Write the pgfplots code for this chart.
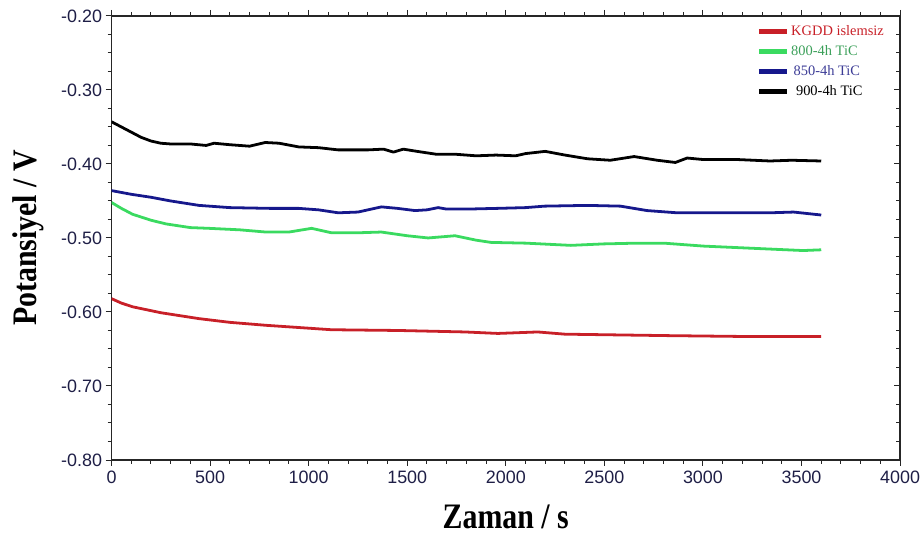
\documentclass[border=0pt]{standalone}
\usepackage{pgfplots}
\pgfplotsset{compat=1.18}
\usepackage{fontspec}
\setmainfont{Liberation Serif}
\newfontfamily\tickfont{Liberation Sans}

\definecolor{cRed}{RGB}{200,32,40}
\definecolor{cGreen}{RGB}{58,218,96}
\definecolor{cBlue}{RGB}{22,24,140}
\definecolor{cGreenTxt}{RGB}{60,160,90}
\definecolor{cBlueTxt}{RGB}{60,60,150}
\definecolor{tickcol}{RGB}{30,30,70}

\begin{document}
\begin{tikzpicture}
\begin{axis}[
  scale only axis,
  width=792pt, height=446pt,
  xmin=0, xmax=4000, ymin=-0.8, ymax=-0.2,
  xtick={0,500,...,4000}, minor x tick num=4,
  ytick={-0.8,-0.7,...,-0.2}, minor y tick num=3,
  xtick pos=both, ytick pos=left,
  tick align=outside,
  major tick length=6pt, minor tick length=4pt,
  axis line style={line width=1.3pt, black!85},
  every tick/.style={line width=1pt, black!85},
  /pgf/number format/assume math mode=true,
  ticklabel style={font=\tickfont\fontsize{18}{18}\selectfont, text=tickcol},
  xticklabel style={/pgf/number format/1000 sep={}, yshift=-2pt},
  yticklabel style={/pgf/number format/.cd, fixed, fixed zerofill, precision=2},
  xlabel={\scalebox{1}[1.2]{\textbf{Zaman / s}}},
  ylabel={\scalebox{1}[1.15]{\textbf{Potansiyel / V}}},
  label style={font=\fontsize{30}{30}\selectfont},
  xlabel style={yshift=-14pt},
  ylabel style={yshift=10pt},
  legend style={draw=none, fill=none, at={(rel axis cs:0.814,0.988)}, anchor=north west,
    font=\fontsize{14.5}{15}\selectfont, row sep=4.5pt},
  legend cell align=left,
  legend image code/.code={\draw[#1, line width=4.8pt] (0pt,0pt) -- (28pt,0pt);},
  every axis plot/.append style={line width=2.8pt, line join=round},
]
% open circuit potential vs time
\addplot[cRed] coordinates {
(0,-0.582) (50,-0.588) (107,-0.593) (250,-0.601) (444,-0.609) (600,-0.614)
(783,-0.618) (950,-0.621) (1116,-0.624) (1455,-0.625) (1793,-0.627) (1960,-0.629)
(2162,-0.627) (2300,-0.630) (2835,-0.632) (3172,-0.633) (3600,-0.633)};
\addlegendentry{\textcolor{cRed}{KGDD islemsiz}}
\addplot[cGreen] coordinates {
(0,-0.452) (50,-0.460) (107,-0.468) (200,-0.476) (276,-0.481) (400,-0.486)
(495,-0.487) (650,-0.489) (783,-0.492) (900,-0.492) (1015,-0.487) (1116,-0.493)
(1250,-0.493) (1369,-0.492) (1500,-0.497) (1606,-0.500) (1742,-0.497) (1850,-0.503)
(1925,-0.506) (2100,-0.507) (2330,-0.510) (2498,-0.508) (2667,-0.507) (2801,-0.507)
(3003,-0.511) (3172,-0.513) (3340,-0.515) (3508,-0.517) (3600,-0.516)};
\addlegendentry{\textcolor{cGreenTxt}{800-4h TiC}}
\addplot[cBlue] coordinates {
(0,-0.436) (100,-0.441) (200,-0.445) (300,-0.450) (444,-0.456) (600,-0.459)
(800,-0.460) (949,-0.460) (1050,-0.462) (1150,-0.466) (1250,-0.465) (1369,-0.458)
(1450,-0.460) (1540,-0.463) (1600,-0.462) (1657,-0.459) (1700,-0.461) (1800,-0.461)
(1960,-0.460) (2100,-0.459) (2197,-0.457) (2414,-0.456) (2581,-0.457) (2717,-0.463)
(2869,-0.466) (3172,-0.466) (3340,-0.466) (3460,-0.465) (3600,-0.469)};
\addlegendentry{\textcolor{cBlueTxt}{\,850-4h TiC}}
\addplot[black] coordinates {
(0,-0.343) (50,-0.350) (100,-0.357) (150,-0.364) (200,-0.369) (250,-0.372)
(300,-0.373) (400,-0.373) (480,-0.375) (520,-0.372) (600,-0.374) (700,-0.376)
(780,-0.371) (850,-0.372) (950,-0.377) (1050,-0.378) (1150,-0.381) (1300,-0.381)
(1380,-0.380) (1430,-0.384) (1480,-0.380) (1550,-0.383) (1650,-0.387) (1750,-0.387)
(1850,-0.389) (1950,-0.388) (2050,-0.389) (2100,-0.386) (2200,-0.383) (2300,-0.388)
(2414,-0.393) (2530,-0.395) (2651,-0.390) (2768,-0.395) (2860,-0.398) (2920,-0.392)
(3000,-0.394) (3172,-0.394) (3340,-0.396) (3450,-0.395) (3600,-0.396)};
\addlegendentry{\textcolor{black}{\,\,900-4h TiC}}
\end{axis}
% right-hand axis with inward ticks
\begin{axis}[
  scale only axis,
  width=792pt, height=446pt,
  xmin=0, xmax=4000, ymin=-0.8, ymax=-0.2,
  hide x axis,
  axis y line*=right,
  ytick={-0.8,-0.7,...,-0.2}, minor y tick num=3,
  yticklabels={},
  tick align=inside,
  major tick length=6pt, minor tick length=4pt,
  axis line style={line width=1.3pt, black!85},
  every tick/.style={line width=1pt, black!85},
]
\end{axis}
\pgfresetboundingbox
\useasboundingbox ([shift={(-112pt,-76pt)}]current axis.south west)
  rectangle ([shift={(20pt,16pt)}]current axis.north east);
\end{tikzpicture}
\end{document}
